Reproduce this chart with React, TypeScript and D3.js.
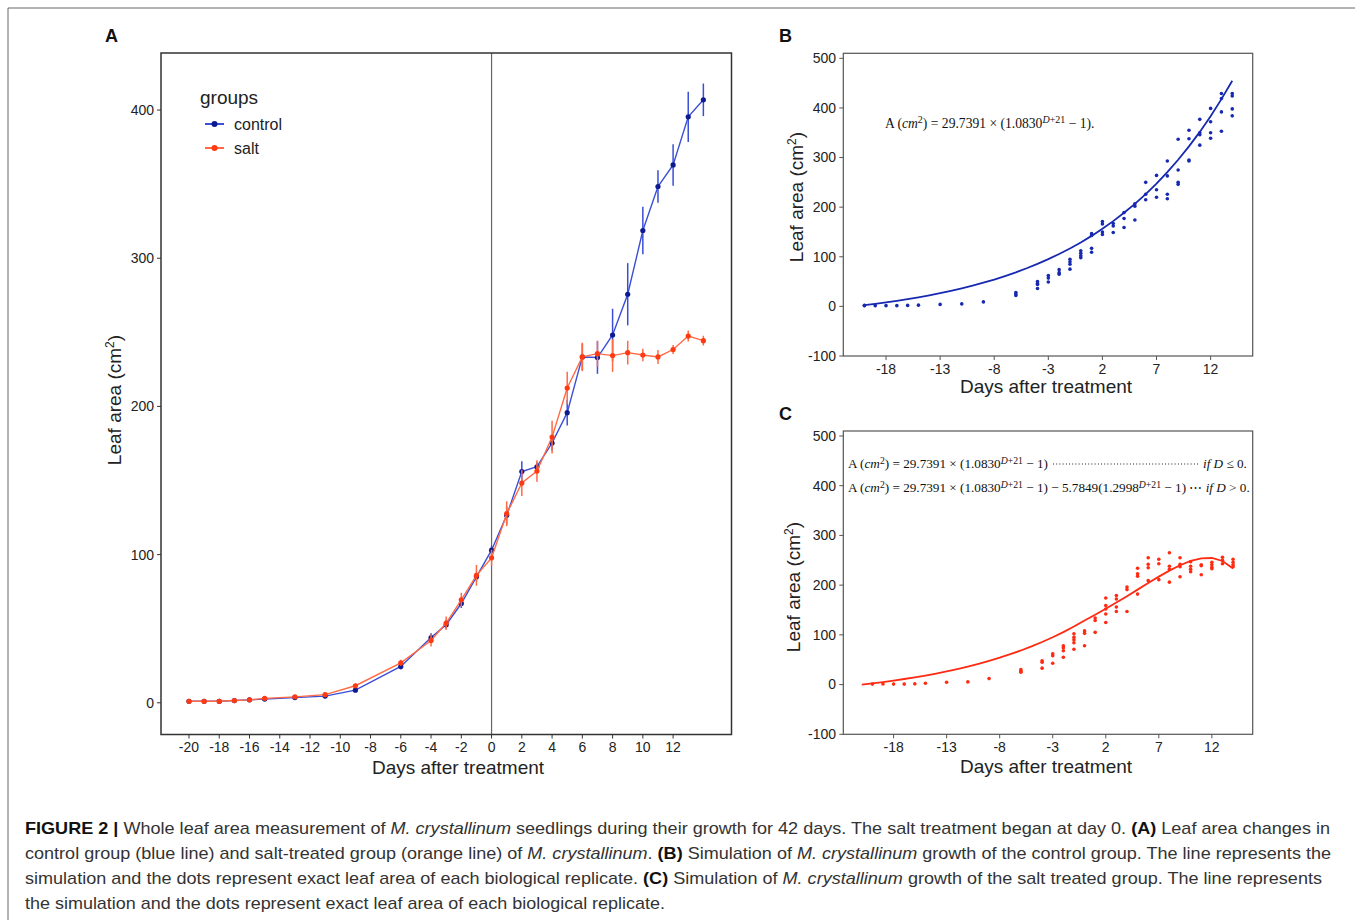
import React from 'react';
import * as d3 from 'd3';

// ---------- DATA ----------
const days = [-20, -19, -18, -17, -16, -15, -13, -11, -9, -6, -4, -3, -2, -1, 0, 1, 2, 3, 4, 5, 6, 7, 8, 9, 10, 11, 12, 13, 14];
const controlMean = [1, 1, 1, 1.5, 2, 2.5, 3.5, 4.5, 8.5, 24.5, 44, 52.7, 67, 85, 103, 126.5, 156, 159.3, 175.3, 195.8, 233.4, 233, 248.2, 275.7, 318.7, 348.4, 363, 395.4, 406.9];
const controlErr = [0.5, 0.5, 0.5, 0.5, 0.5, 0.8, 1, 1, 1, 2, 3, 3, 3, 3, 3, 6, 7, 3, 5, 8.7, 9, 11, 17.7, 21, 16, 11, 14, 17, 11];
const saltMean = [1, 1, 1, 1.5, 2, 3, 4, 5.5, 11.5, 27, 42, 53.8, 69.5, 86, 97.8, 127.6, 148.3, 156.4, 179.3, 212.4, 233.4, 235.6, 234.3, 236.3, 234.7, 233.4, 238.4, 247.5, 244.4];
const saltErr = [0.5, 0.5, 0.5, 0.5, 0.5, 0.8, 1, 1, 1.5, 2, 4, 4.5, 4.7, 7, 5.5, 8.4, 8.8, 7.3, 11, 11, 9.6, 8.8, 11, 8, 4.3, 4.7, 3, 3.7, 3.3];

const controlReps = [
  [1.5, 2], [1.5], [1.5], [1.5], [2], [2.5], [4], [5], [9], [28, 25, 22], [50, 46, 44, 36], [62, 57, 49], [74, 68, 65],
  [95, 90, 85, 75], [112, 107, 102, 98], [147, 143, 117, 109], [171, 166, 150, 145], [167, 162, 149], [189, 177, 159],
  [207, 202, 174], [250, 226, 215], [264, 235, 220], [293, 263, 226, 217], [337, 275, 250, 246], [355, 338, 295, 293],
  [377, 350, 346, 325], [399, 372, 350, 339], [429, 419, 392, 353], [429, 424, 398, 384],
];
const saltReps = [
  [1], [1.3], [1], [1], [1.5], [2.8], [4.7], [5.4], [12], [30, 27, 25], [48, 45, 33], [62, 58, 43], [78, 74, 68, 55],
  [102, 95, 90, 84, 71], [108, 103, 78], [134, 129, 105], [174, 159, 152, 142, 125], [179, 172, 156, 147], [196, 191, 147],
  [234, 223, 218, 182], [255, 242, 235, 209], [252, 243, 211], [265, 238, 232, 206], [255, 242, 237, 217],
  [247, 238, 232, 227], [241, 239, 221], [246, 241, 236, 233], [256, 250, 243], [252, 246, 241, 237],
];

const simDaysB = [-20, -19, -18, -17, -16, -15, -14, -13, -12, -11, -10, -9, -8, -7, -6, -5, -4, -3, -2, -1, 0, 1, 2, 3, 4, 5, 6, 7, 8, 9, 10, 11, 12, 13, 14];
const controlSim = [2.5, 5.1, 8.0, 11.2, 14.6, 18.2, 22.2, 26.5, 31.2, 36.3, 41.8, 47.7, 54.1, 61.1, 68.6, 76.8, 85.6, 95.2, 105.6, 116.8, 128.9, 142.1, 156.4, 171.8, 188.6, 206.7, 226.3, 247.6, 270.6, 295.5, 322.5, 351.7, 383.4, 417.7, 454.8];
const simDaysC = [-21, -20, -19, -18, -17, -16, -15, -14, -13, -12, -11, -10, -9, -8, -7, -6, -5, -4, -3, -2, -1, 0, 1, 2, 3, 4, 5, 6, 7, 8, 9, 10, 11, 12, 13, 14];
const saltSim = [0, 2.5, 5.1, 8.0, 11.2, 14.6, 18.2, 22.2, 26.5, 31.2, 36.3, 41.8, 47.7, 54.1, 61.1, 68.6, 76.8, 85.6, 95.2, 105.6, 116.8, 128.9, 140.4, 152.4, 164.9, 177.8, 191.0, 204.2, 217.1, 229.2, 240.0, 248.6, 254.0, 254.6, 248.6, 233.3];

const ticksXA = [-20, -18, -16, -14, -12, -10, -8, -6, -4, -2, 0, 2, 4, 6, 8, 10, 12];
const ticksYA = [0, 100, 200, 300, 400];
const ticksXBC = [-18, -13, -8, -3, 2, 7, 12];
const ticksYBC = [-100, 0, 100, 200, 300, 400, 500];
const legendGroups = ['control', 'salt'];

// ---------- STYLE ----------
const SANS = "'Liberation Sans', Arial, Helvetica, sans-serif";
const SERIF = "'Liberation Serif', 'Times New Roman', serif";
const BLUE_LINE = '#3a4fd6';
const BLUE_DOT = '#0d1a8f';
const RED_LINE = '#ff6a45';
const RED_DOT = '#ff3a12';
const B_COL = '#1729b0';
const C_COL = '#ff2a12';

const xA = d3.scaleLinear().domain([-21.85, 15.86]).range([161, 731.5]);
const yA = d3.scaleLinear().domain([-21.4, 438.5]).range([734.5, 53]);
const xB = d3.scaleLinear().domain([-21.95, 15.89]).range([843.3, 1252.7]);
const yB = d3.scaleLinear().domain([-100, 510.1]).range([356, 53.3]);
const xC = d3.scaleLinear().domain([-22.74, 15.85]).range([843.3, 1252.7]);
const yC = d3.scaleLinear().domain([-100, 510]).range([734.3, 431]);

function Axes({ x, y, xt, yt, stroke, sw, fs, xLabelY, yLabelX }: any) {
  const [x0, x1] = x.range();
  const [y1, y0] = y.range();
  return (
    <g>
      <rect x={x0} y={y0} width={x1 - x0} height={y1 - y0} fill="none" stroke={stroke} strokeWidth={sw} />
      {yt.map((t: number) => (
        <g key={'y' + t}>
          <line x1={x0 - 4} x2={x0} y1={y(t)} y2={y(t)} stroke={stroke} strokeWidth={1} />
          <text x={yLabelX} y={y(t)} dy="0.35em" textAnchor="end" fontFamily={SANS} fontSize={fs} fill="#222">{t}</text>
        </g>
      ))}
      {xt.map((t: number) => (
        <g key={'x' + t}>
          <line x1={x(t)} x2={x(t)} y1={y1} y2={y1 + 4} stroke={stroke} strokeWidth={1} />
          <text x={x(t)} y={xLabelY} textAnchor="middle" fontFamily={SANS} fontSize={fs} fill="#222">{t}</text>
        </g>
      ))}
    </g>
  );
}

function YLabel({ x, y }: any) {
  return (
    <text transform={`translate(${x},${y}) rotate(-90)`} textAnchor="middle" fontFamily={SANS} fontSize={19} fill="#222">
      Leaf area (cm<tspan dy={-7} fontSize={12}>2</tspan><tspan dy={7}>)</tspan>
    </text>
  );
}

function XLabel({ x, y }: any) {
  return (
    <text x={x} y={y} textAnchor="middle" fontFamily={SANS} fontSize={19} fill="#222">Days after treatment</text>
  );
}

function FormulaHead({ sup }: any) {
  return (
    <>
      A (<tspan fontStyle="italic">cm</tspan><tspan dy={-4.5} fontSize={sup}>2</tspan><tspan dy={4.5}>) = 29.7391 × (1.0830</tspan>
      <tspan dy={-4.5} fontSize={sup} fontStyle="italic">D</tspan><tspan fontSize={sup}>+21</tspan><tspan dy={4.5}> − 1)</tspan>
    </>
  );
}

export default function App() {
  const lineA = d3.line<number>().x((_, i) => xA(days[i])).y((v) => yA(v));
  const lineB = d3.line<number>().x((_, i) => xB(simDaysB[i])).y((v) => yB(v));
  const lineC = d3.line<number>().x((_, i) => xC(simDaysC[i])).y((v) => yC(v));

  const series = [
    { name: 'control', mean: controlMean, err: controlErr, line: BLUE_LINE, dot: BLUE_DOT },
    { name: 'salt', mean: saltMean, err: saltErr, line: RED_LINE, dot: RED_DOT },
  ];

  const fsF = 13.6;
  const fs2 = 13.2;

  return (
    <svg width={1355} height={920} style={{ position: 'absolute', left: 0, top: 0, background: '#fff' }}>
      <rect x={0} y={0} width={1355} height={920} fill="#fff" />
      {/* figure frame */}
      <path d="M8,920 L8,8 L1355,8" fill="none" stroke="#666" strokeWidth={1} />

      {/* ---------- Panel A ---------- */}
      <text x={105} y={42} fontFamily={SANS} fontWeight="bold" fontSize={18} fill="#111">A</text>
      <line x1={xA(0)} x2={xA(0)} y1={53} y2={734.5} stroke="#666" strokeWidth={1.2} />
      {series.map((s) => (
        <g key={s.name}>
          {s.mean.map((m, i) => (
            <line key={i} x1={xA(days[i])} x2={xA(days[i])} y1={yA(m - s.err[i])} y2={yA(m + s.err[i])} stroke={s.line} strokeWidth={1.5} />
          ))}
          <path d={lineA(s.mean) || ''} fill="none" stroke={s.line} strokeWidth={1.4} />
          {s.mean.map((m, i) => (
            <circle key={'c' + i} cx={xA(days[i])} cy={yA(m)} r={2.6} fill={s.dot} />
          ))}
        </g>
      ))}
      <Axes x={xA} y={yA} xt={ticksXA} yt={ticksYA} stroke="#333" sw={1.5} fs={14} xLabelY={752} yLabelX={154} />
      <YLabel x={121} y={400} />
      <XLabel x={458} y={774} />
      {/* legend */}
      <text x={200} y={104} fontFamily={SANS} fontSize={19} fill="#222">groups</text>
      {legendGroups.map((g, i) => {
        const s = series[i];
        const yy = 124 + i * 24;
        return (
          <g key={g}>
            <line x1={205} x2={224} y1={yy} y2={yy} stroke={s.line} strokeWidth={2} />
            <circle cx={214.5} cy={yy} r={3} fill={s.dot} />
            <text x={234} y={yy} dy="0.35em" fontFamily={SANS} fontSize={16} fill="#222">{g}</text>
          </g>
        );
      })}

      {/* ---------- Panel B ---------- */}
      <text x={779} y={42} fontFamily={SANS} fontWeight="bold" fontSize={18} fill="#111">B</text>
      <Axes x={xB} y={yB} xt={ticksXBC} yt={ticksYBC} stroke="#555" sw={1.2} fs={14} xLabelY={374} yLabelX={836} />
      <path d={lineB(controlSim) || ''} fill="none" stroke={B_COL} strokeWidth={1.8} />
      {controlReps.map((reps, i) =>
        reps.map((v, j) => <circle key={i + '-' + j} cx={xB(days[i])} cy={yB(v)} r={1.8} fill={B_COL} />)
      )}
      <text x={885} y={127.5} fontFamily={SERIF} fontSize={fsF} fill="#111">
        <FormulaHead sup={10} />.
      </text>
      <YLabel x={803} y={197} />
      <XLabel x={1046} y={393} />

      {/* ---------- Panel C ---------- */}
      <text x={779} y={420} fontFamily={SANS} fontWeight="bold" fontSize={18} fill="#111">C</text>
      <Axes x={xC} y={yC} xt={ticksXBC} yt={ticksYBC} stroke="#555" sw={1.2} fs={14} xLabelY={752} yLabelX={836} />
      <path d={lineC(saltSim) || ''} fill="none" stroke={C_COL} strokeWidth={1.8} />
      {saltReps.map((reps, i) =>
        reps.map((v, j) => <circle key={i + '-' + j} cx={xC(days[i])} cy={yC(v)} r={1.8} fill={C_COL} />)
      )}
      <text x={848} y={468} fontFamily={SERIF} fontSize={fs2} fill="#111">
        <FormulaHead sup={9.7} />
      </text>
      <line x1={1053} x2={1199} y1={464} y2={464} stroke="#222" strokeWidth={1.1} strokeDasharray="1 2.2" />
      <text x={1203} y={468} fontFamily={SERIF} fontSize={fs2} fill="#111">
        <tspan fontStyle="italic">if D</tspan> ≤ 0.
      </text>
      <text x={848} y={492} fontFamily={SERIF} fontSize={fs2} fill="#111">
        <FormulaHead sup={9.7} /> − 5.7849(1.2998<tspan dy={-4.5} fontSize={9.7} fontStyle="italic">D</tspan><tspan fontSize={9.7}>+21</tspan>
        <tspan dy={4.5}> − 1) ⋯ </tspan><tspan fontStyle="italic">if D</tspan> &gt; 0.
      </text>
      <YLabel x={800} y={587} />
      <XLabel x={1046} y={773} />

      {/* ---------- Caption ---------- */}
      <g fontFamily={SANS} fontSize={17} fill="#333">
        <text x={25} y={834} textLength={1305} lengthAdjust="spacingAndGlyphs">
          <tspan fontWeight="bold" fill="#111">FIGURE 2 |</tspan> Whole leaf area measurement of <tspan fontStyle="italic">M. crystallinum</tspan> seedlings during their growth for 42 days. The salt treatment began at day 0. <tspan fontWeight="bold" fill="#111">(A)</tspan> Leaf area changes in
        </text>
        <text x={25} y={859} textLength={1306} lengthAdjust="spacingAndGlyphs">
          control group (blue line) and salt-treated group (orange line) of <tspan fontStyle="italic">M. crystallinum</tspan>. <tspan fontWeight="bold" fill="#111">(B)</tspan> Simulation of <tspan fontStyle="italic">M. crystallinum</tspan> growth of the control group. The line represents the
        </text>
        <text x={25} y={884} textLength={1297} lengthAdjust="spacingAndGlyphs">
          simulation and the dots represent exact leaf area of each biological replicate. <tspan fontWeight="bold" fill="#111">(C)</tspan> Simulation of <tspan fontStyle="italic">M. crystallinum</tspan> growth of the salt treated group. The line represents
        </text>
        <text x={25} y={909} textLength={640} lengthAdjust="spacingAndGlyphs">
          the simulation and the dots represent exact leaf area of each biological replicate.
        </text>
      </g>
    </svg>
  );
}
